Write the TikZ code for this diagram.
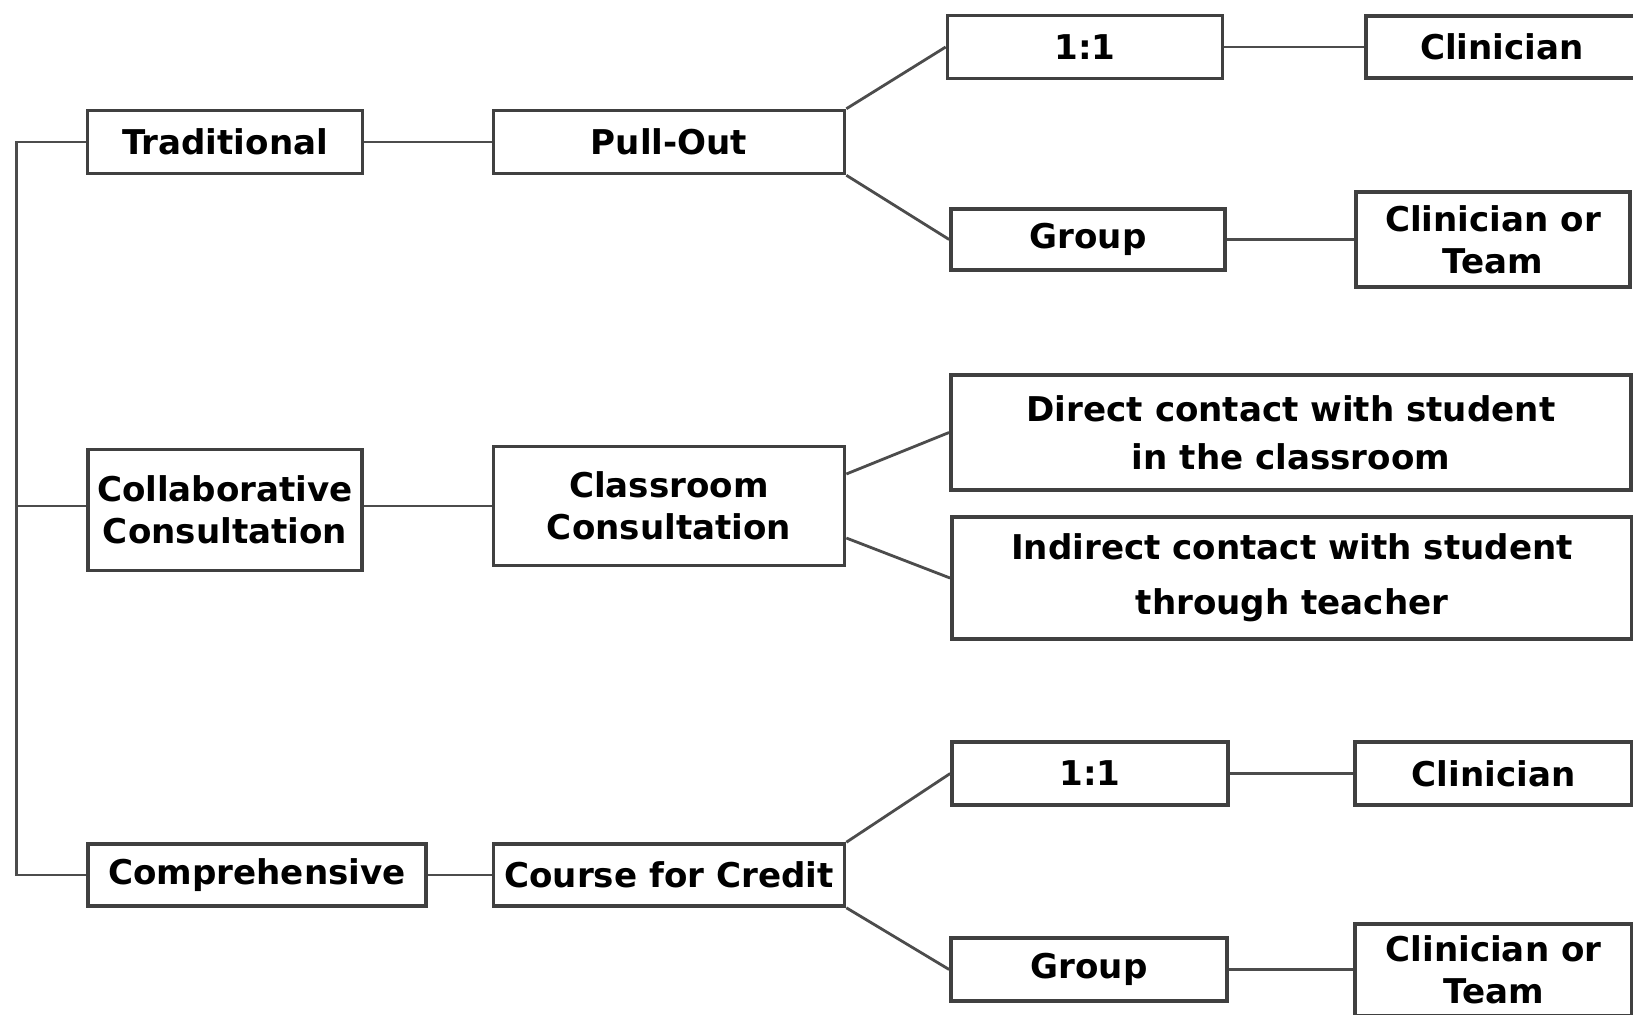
\documentclass[tikz,border=0pt]{standalone}
\usepackage{fontspec}
\setmainfont{DejaVu Sans}

\begin{document}
\begin{tikzpicture}[x=0.01cm, y=-0.01cm,
        box/.style={draw=black!75, line width=1pt, rectangle, align=center, inner sep=0pt,
            font=\bfseries\fontsize{9.7}{12}\selectfont},
        link/.style={draw=black!70, line width=0.8pt}]

    \useasboundingbox (0,0) rectangle (1633,1014);

    % service models
    \node[box, minimum width=2.75cm, minimum height=0.63cm] (trad) at (225,142) {Traditional};
    \node[box, minimum width=2.74cm, minimum height=1.21cm] (collab) at (225,510) {Collaborative\\Consultation};
    \node[box, minimum width=3.38cm, minimum height=0.62cm] (compr) at (257,875) {Comprehensive};

    % settings
    \node[box, minimum width=3.51cm, minimum height=0.63cm] (pullout) at (669,142) {Pull-Out};
    \node[box, minimum width=3.51cm, minimum height=1.19cm] (classroom) at (669,506) {Classroom\\Consultation};
    \node[box, minimum width=3.51cm, minimum height=0.62cm] (course) at (669,875) {Course for Credit};

    % formats
    \node[box, minimum width=2.75cm, minimum height=0.63cm] (onea) at (1085,47) {1:1};
    \node[box, minimum width=2.74cm, minimum height=0.61cm] (groupa) at (1088,239.5) {Group};
    \node[box, minimum width=6.80cm, minimum height=1.15cm] (direct) at (1291,432.5) {Direct contact with student\\[1.6pt]in the classroom};
    \node[box, minimum width=6.80cm, minimum height=1.22cm] (indirect) at (1292,578) {Indirect contact with student\\[3.7pt]through teacher};
    \node[box, minimum width=2.76cm, minimum height=0.63cm] (oneb) at (1090,773.5) {1:1};
    \node[box, minimum width=2.76cm, minimum height=0.63cm] (groupb) at (1089,969.5) {Group};

    % who delivers
    \node[box, minimum width=2.72cm, minimum height=0.62cm] (clina) at (1502,47) {Clinician};
    \node[box, minimum width=2.74cm, minimum height=0.95cm] (teama) at (1493,239.5) {Clinician or\\Team};
    \node[box, minimum width=2.77cm, minimum height=0.63cm] (clinb) at (1493.5,773.5) {Clinician};
    \node[box, minimum width=2.77cm, minimum height=0.92cm] (teamb) at (1493.5,970) {Clinician or\\Team};

    % left spine
    \coordinate (spinetop) at (16.5,142);
    \coordinate (spinemid) at (16.5,506);
    \coordinate (spinebot) at (16.5,875);
    \draw[link] (trad.west) -- (spinetop) -- (spinebot) -- (compr.west);
    \draw[link] (spinemid) -- (spinemid -| collab.west);

    \draw[link] (trad.east) -- (pullout.west);
    \draw[link] (classroom.west) -- (classroom.west -| collab.east);
    \draw[link] (compr.east) -- (course.west);

    \draw[link] (pullout.north east) -- (onea.west);
    \draw[link] (pullout.south east) -- (groupa.west);
    \draw[link] ([yshift=0.32cm]classroom.east) -- (direct.west);
    \draw[link] ([yshift=-0.32cm]classroom.east) -- (indirect.west);
    \draw[link] (course.north east) -- (oneb.west);
    \draw[link] (course.south east) -- (groupb.west);

    \draw[link] (onea.east) -- (clina.west);
    \draw[link] (groupa.east) -- (groupa.east -| teama.west);
    \draw[link] (oneb.east) -- (clinb.west);
    \draw[link] (groupb.east) -- (groupb.east -| teamb.west);
\end{tikzpicture}
\end{document}
